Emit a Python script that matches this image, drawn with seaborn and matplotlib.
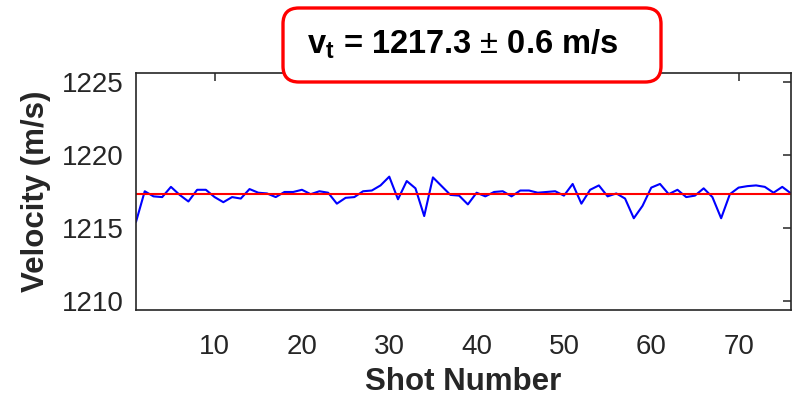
import numpy as np
import pandas as pd
import matplotlib
matplotlib.use("Agg")
import matplotlib.pyplot as plt
from matplotlib.patches import FancyBboxPatch
import seaborn as sns

shots = list(range(1, 77))
velocity = [
    1215.4, 1217.5, 1217.15, 1217.1, 1217.8, 1217.25, 1216.8, 1217.6, 1217.6, 1217.1,
    1216.75, 1217.1, 1217.0, 1217.65, 1217.4, 1217.35, 1217.1, 1217.45, 1217.45, 1217.6,
    1217.3, 1217.5, 1217.4, 1216.65, 1217.05, 1217.1, 1217.5, 1217.55, 1217.9, 1218.5,
    1216.95, 1218.2, 1217.7, 1215.8, 1218.45, 1217.85, 1217.25, 1217.2, 1216.6, 1217.4,
    1217.15, 1217.45, 1217.5, 1217.15, 1217.55, 1217.55, 1217.4, 1217.45, 1217.5, 1217.2,
    1218.0, 1216.65, 1217.6, 1217.9, 1217.15, 1217.35, 1217.0, 1215.65, 1216.5, 1217.75,
    1218.0, 1217.3, 1217.6, 1217.1, 1217.2, 1217.7, 1217.1, 1215.65, 1217.3, 1217.75,
    1217.85, 1217.9, 1217.8, 1217.4, 1217.8, 1217.35,
]
mean_velocity = 1217.3
uncertainty = 0.6
x_ticks = [10, 20, 30, 40, 50, 60, 70]
y_ticks = [1210, 1215, 1220, 1225]

sns.set_theme(style="white")
plt.rcParams["font.family"] = ["Liberation Sans", "DejaVu Sans"]
plt.rcParams["mathtext.fontset"] = "custom"
plt.rcParams["mathtext.rm"] = "Liberation Sans"
plt.rcParams["mathtext.bf"] = "Liberation Sans:bold"
plt.rcParams["mathtext.it"] = "Liberation Sans:italic"

df = pd.DataFrame({"Shot": shots, "Velocity": velocity})

fig = plt.figure(figsize=(7.92, 3.97), dpi=100)
ax = fig.add_axes([136 / 792, 1 - 309.5 / 397, (791 - 136) / 792, (309.5 - 73) / 397])

sns.lineplot(data=df, x="Shot", y="Velocity", ax=ax, color=(0, 0, 1), linewidth=1.5)
ax.axhline(mean_velocity, color=(1, 0, 0), linewidth=1.5)

ax.set_xlim(1, 76)
ax.set_ylim(1209.4, 1225.6)
ax.set_xticks(x_ticks)
ax.set_yticks(y_ticks)

dark = "#262626"
for s in ax.spines.values():
    s.set_visible(True)
    s.set_color(dark)
    s.set_linewidth(1.2)
ax.tick_params(direction="in", length=6, width=1.1, colors=dark,
               top=True, right=True, labelsize=20, pad=9)
ax.tick_params(axis="x", pad=18)
for lbl in ax.get_xticklabels() + ax.get_yticklabels():
    lbl.set_color(dark)

ax.set_xlabel("Shot Number", fontsize=22.5, fontweight="bold", color=dark, labelpad=5)
ax.set_ylabel("Velocity (m/s)", fontsize=22.5, fontweight="bold", color=dark, labelpad=8)

# annotation box
bx0, bx1 = 283 / 792, 661 / 792
by0, by1 = 1 - 82 / 397, 1 - 8 / 397
box = FancyBboxPatch((bx0, by0), bx1 - bx0, by1 - by0,
                     boxstyle="round,pad=0,rounding_size=0.02",
                     mutation_aspect=792 / 397,
                     transform=fig.transFigure, facecolor="white",
                     edgecolor=(1, 0, 0), linewidth=2.4, zorder=10)
fig.patches.append(box)
label = r"$\mathbf{v}_{\mathbf{t}}$ = " + f"{mean_velocity:.1f} " + r"$\pm$" + f" {uncertainty:.1f} m/s"
fig.text(463 / 792, 1 - 44 / 397, label, ha="center", va="center",
         fontsize=23.5, fontweight="bold", color="black", zorder=11)

fig.savefig("out.png", dpi=100)
